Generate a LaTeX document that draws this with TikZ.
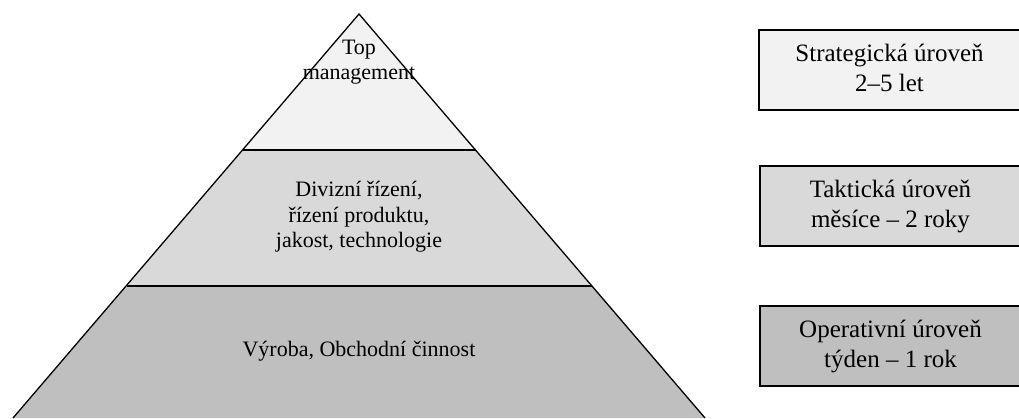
\documentclass[tikz,border=0pt]{standalone}
\usepackage{fontspec}
\setmainfont{Liberation Serif}
\begin{document}
\begin{tikzpicture}[x=1pt,y=-1pt,
  bandtext/.style={align=center,font=\fontsize{22}{25.5}\selectfont,inner sep=0pt},
  levelbox/.style={draw=black,line width=1.6pt,minimum width=261pt,minimum height=80pt,
    inner sep=0pt,align=center,font=\fontsize{25}{30}\selectfont},
  divider/.style={line width=2pt}]
\useasboundingbox (0,0) rectangle (1019,418);
% pyramid corners and band edges
\coordinate (apex) at (359,14);
\coordinate (bl) at (13,418);
\coordinate (br) at (705,418);
\coordinate (l1) at (242.5,150);
\coordinate (r1) at (475.5,150);
\coordinate (l2) at (126.5,285.5);
\coordinate (r2) at (591.5,285.5);
% bands
\fill[fill={rgb,255:red,242;green,242;blue,242}] (apex) -- (r1) -- (l1) -- cycle;
\fill[fill={rgb,255:red,217;green,217;blue,217}] (l1) -- (r1) -- (r2) -- (l2) -- cycle;
\fill[fill={rgb,255:red,191;green,191;blue,191}] (l2) -- (r2) -- (br) -- (bl) -- cycle;
\draw[divider] (l1) -- (r1);
\draw[divider] (l2) -- (r2);
\draw[line width=1.3pt,line join=miter] (bl) -- (apex) -- (br);
% band labels
\node[bandtext] (top) at (359,62) {Top\\management};
\node[bandtext] (mid) at (359,217) {Divizní řízení,\\řízení produktu,\\jakost, technologie};
\node[bandtext] (low) at (359,351) {Výroba, Obchodní činnost};
% planning levels
\node[levelbox,fill={rgb,255:red,242;green,242;blue,242}] (strat) at (889.5,70) {Strategická úroveň\\2–5 let\rule[-5pt]{0pt}{0pt}};
\node[levelbox,fill={rgb,255:red,217;green,217;blue,217}] (takt) at (890.5,206) {Taktická úroveň\\měsíce – 2 roky\rule[-5pt]{0pt}{0pt}};
\node[levelbox,fill={rgb,255:red,191;green,191;blue,191}] (oper) at (890.5,346) {Operativní úroveň\\týden – 1 rok\rule[-5pt]{0pt}{0pt}};
\end{tikzpicture}
\end{document}
